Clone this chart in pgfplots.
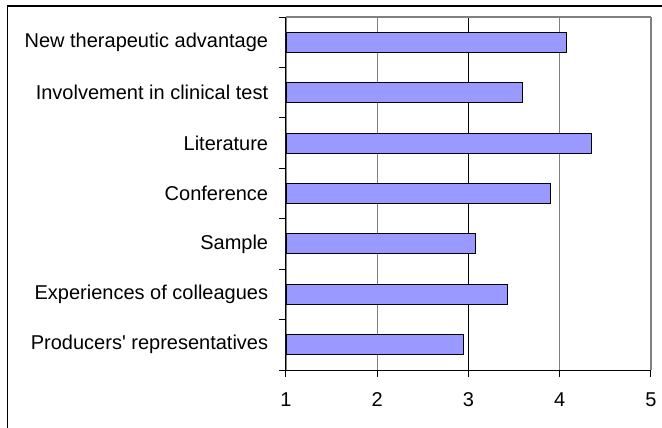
\documentclass[border=0pt]{standalone}
\usepackage{pgfplots}
\pgfplotsset{compat=1.18}
\usepackage{fontspec}
\setmainfont{Liberation Sans}
\definecolor{barblue}{HTML}{9999FF}
\definecolor{gridgray}{HTML}{808080}
\begin{document}
\fontsize{20}{24}\selectfont
\begin{tikzpicture}[x=1pt,y=1pt]
\useasboundingbox (0,0) rectangle (662,428);
\draw[line width=1.3pt] (7.5,0) -- (7.5,422) -- (662,422);
\begin{axis}[
  at={(286pt,58pt)}, anchor=south west,
  scale only axis, width=365pt, height=353pt,
  xmin=1, xmax=5, ymin=-0.5, ymax=6.5, y dir=reverse,
  xbar, bar width=20pt,
  axis x line*=bottom, axis y line*=left,
  axis line style={line width=1pt, -},
  xtick={1,2,3,4,5},
  ytick={-0.5,0.5,...,6.5}, y tick label as interval,
  yticklabels={New therapeutic advantage, Involvement in clinical test, Literature, Conference, Sample, Experiences of colleagues, Producers\textquotesingle\ representatives},
  tick align=outside, major tick length=7pt,
  tick style={black, line width=1pt},
  xmajorgrids, grid style={gridgray, line width=1.2pt},
  extra x ticks={3}, extra x tick labels={},
  extra x tick style={grid style={black, line width=1pt}},
  /pgf/number format/assume math mode=true,
  tick label style={font=\fontsize{20}{24}\selectfont},
  xticklabel style={yshift=-9pt},
  yticklabel style={xshift=-4pt},
  clip=false,
]
\draw[gridgray, line width=1.2pt] (axis cs:1,-0.5) -- (axis cs:5,-0.5);
\addplot[fill=barblue, draw=black, line width=0.9pt] coordinates {
  (4.07,0) (3.59,1) (4.35,2) (3.90,3) (3.08,4) (3.43,5) (2.95,6)
};
\end{axis}
\end{tikzpicture}
\end{document}
